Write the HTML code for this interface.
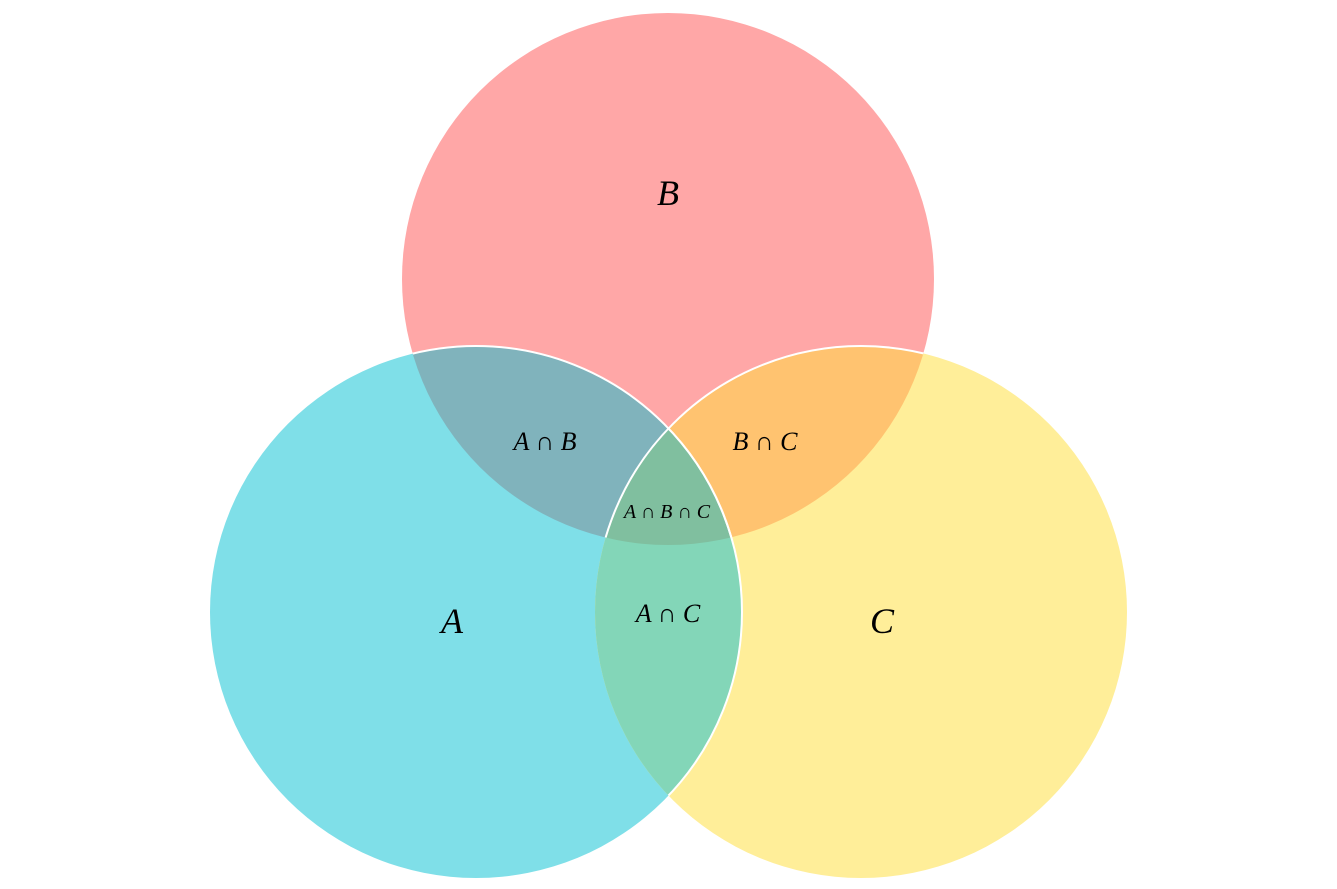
<!DOCTYPE html>
<html><head><meta charset="utf-8"><style>
html,body{margin:0;padding:0;background:#fff;}
svg{display:block}
text{font-family:"Liberation Serif","DejaVu Serif",serif;font-style:italic;fill:#000;}
</style></head><body>
<svg id="venn" width="1337" height="889" viewBox="0 0 1337 889" xmlns="http://www.w3.org/2000/svg">
<defs>
<clipPath id="clipA"><circle cx="476" cy="612" r="266"/></clipPath>
<clipPath id="clipB"><circle cx="668" cy="279" r="266"/></clipPath>
<clipPath id="clipC"><circle cx="861" cy="612" r="266"/></clipPath>
</defs>
<circle cx="668" cy="279" r="266" fill="#FFA7A7"/>
<circle cx="476" cy="612" r="266" fill="#7FDFE8"/>
<circle cx="861" cy="612" r="266" fill="#FFEE99"/>
<g clip-path="url(#clipA)"><circle cx="668" cy="279" r="266" fill="#80B3BC"/></g>
<g clip-path="url(#clipB)"><circle cx="861" cy="612" r="266" fill="#FFC370"/></g>
<g clip-path="url(#clipA)"><circle cx="861" cy="612" r="266" fill="#83D6B8"/></g>
<g clip-path="url(#clipA)"><g clip-path="url(#clipB)"><circle cx="861" cy="612" r="266" fill="#80BF9F"/></g></g>
<g fill="none" stroke="#fff" stroke-width="2">
<g clip-path="url(#clipB)"><circle cx="476" cy="612" r="266"/><circle cx="861" cy="612" r="266"/></g>
<g clip-path="url(#clipC)"><circle cx="476" cy="612" r="266"/></g>
</g>
<text x="668" y="205" font-size="36" text-anchor="middle">B</text>
<text x="452" y="633" font-size="36" text-anchor="middle">A</text>
<text x="882" y="633" font-size="36" text-anchor="middle">C</text>
<text x="545" y="450" font-size="26" text-anchor="middle">A ∩ B</text>
<text x="765" y="450" font-size="26" text-anchor="middle">B ∩ C</text>
<text x="668" y="622" font-size="26" text-anchor="middle">A ∩ C</text>
<text x="667" y="518" font-size="20" text-anchor="middle">A ∩ B ∩ C</text>
</svg>
</body></html>
